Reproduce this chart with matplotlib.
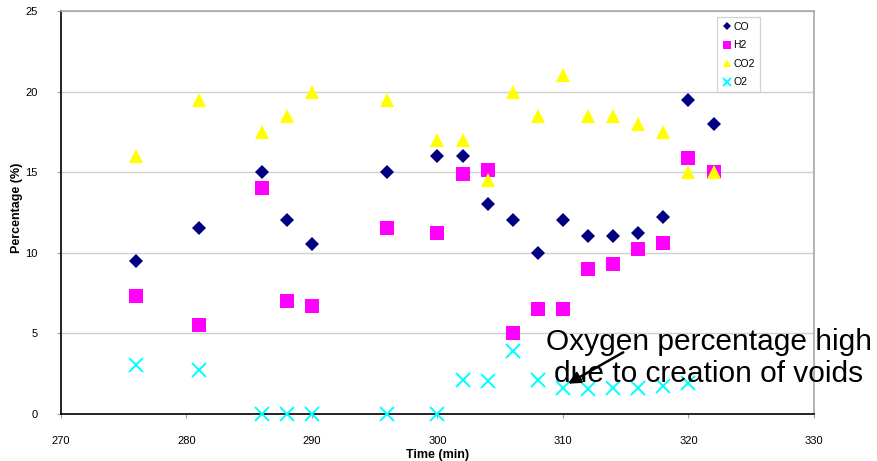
import matplotlib
matplotlib.use("Agg")
import matplotlib.pyplot as plt

plt.rcParams['font.family'] = ['Liberation Sans', 'DejaVu Sans']

# Gas composition over time
time_min = [276, 281, 286, 288, 290, 296, 300, 302, 304, 306, 308, 310, 312, 314, 316, 318, 320, 322]
co = [9.5, 11.5, 15, 12, 10.5, 15, 16, 16, 13, 12, 10, 12, 11, 11, 11.2, 12.2, 19.5, 18]
h2 = [7.3, 5.5, 14, 7, 6.7, 11.5, 11.2, 14.9, 15.1, 5, 6.5, 6.5, 9, 9.3, 10.2, 10.6, 15.9, 15]
co2 = [16, 19.5, 17.5, 18.5, 20, 19.5, 17, 17, 14.5, 20, 18.5, 21, 18.5, 18.5, 18, 17.5, 15, 15]
o2 = [3.0, 2.7, 0, 0, 0, 0, 0, 2.1, 2.0, 3.9, 2.1, 1.6, 1.55, 1.6, 1.6, 1.7, 1.9, None]

x_ticks = [270, 280, 290, 300, 310, 320, 330]
y_ticks = [0, 5, 10, 15, 20, 25]

fig = plt.figure(figsize=(8.78, 4.61), dpi=100)
ax = fig.add_axes([61 / 878, 1 - 413.5 / 461, 753 / 878, 402.5 / 461])

ax.set_xlim(270, 330)
ax.set_ylim(0, 25)
ax.set_xticks(x_ticks)
ax.set_yticks(y_ticks)

ax.yaxis.grid(True, color='#d0d0d0', linewidth=1.0)
ax.set_axisbelow(True)

for s in ['top', 'right']:
    ax.spines[s].set_color('#a8a8a8')
    ax.spines[s].set_linewidth(1.2)
for s in ['left', 'bottom']:
    ax.spines[s].set_color('black')
    ax.spines[s].set_linewidth(1.2)

ax.tick_params(axis='both', labelsize=8, colors='#a0a0a0', labelcolor='black',
               length=3, width=0.8, direction='out')
ax.tick_params(axis='y', pad=14)
ax.tick_params(axis='x', pad=13)

o2_t = [t for t, v in zip(time_min, o2) if v is not None]
o2_v = [v for v in o2 if v is not None]

ax.plot(time_min, co, linestyle='none', marker='D', ms=6.8, color='#000080',
        markeredgewidth=0, label='CO', clip_on=False, zorder=3)
ax.plot(time_min, h2, linestyle='none', marker='s', ms=10, color='#FF00FF',
        markeredgewidth=0, label='H2', clip_on=False, zorder=3)
ax.plot(time_min, co2, linestyle='none', marker='^', ms=10.5, color='#FFFF00',
        markeredgewidth=0, label='CO2', clip_on=False, zorder=3)
ax.plot(o2_t, o2_v, linestyle='none', marker='x', ms=9.4, color='#00FFFF',
        markeredgewidth=1.4, label='O2', clip_on=False, zorder=4)

ax.set_xlabel('Time (min)', fontsize=9, fontweight='bold')
ax.set_ylabel('Percentage (%)', fontsize=9, fontweight='bold')
ax.xaxis.label.set_va('center')
ax.yaxis.label.set_va('center')
ax.xaxis.set_label_coords(0.5, -0.102)
ax.yaxis.set_label_coords(-0.058, 0.51)

leg = ax.legend(loc='upper left', bbox_to_anchor=(0.871, 0.985), fontsize=7.5,
                frameon=True, fancybox=False, borderpad=0.45, handlelength=1.0,
                handletextpad=0.15, labelspacing=0.82, markerscale=0.55,
                borderaxespad=0)
leg.get_frame().set_edgecolor('#c8c8c8')
leg.get_frame().set_linewidth(0.9)

ax.annotate('', xy=(310.4, 1.85), xytext=(314.8, 3.8),
            arrowprops=dict(arrowstyle='-|>', color='black', lw=1.8,
                            mutation_scale=18, shrinkA=0, shrinkB=0),
            zorder=6, annotation_clip=False)
ax.text(709 / 878, 1 - 358 / 461, 'Oxygen percentage high\ndue to creation of voids',
        transform=fig.transFigure, ha='center', va='center', fontsize=21.5,
        linespacing=1.2, zorder=7, clip_on=False)

fig.savefig('out.png', dpi=100)
